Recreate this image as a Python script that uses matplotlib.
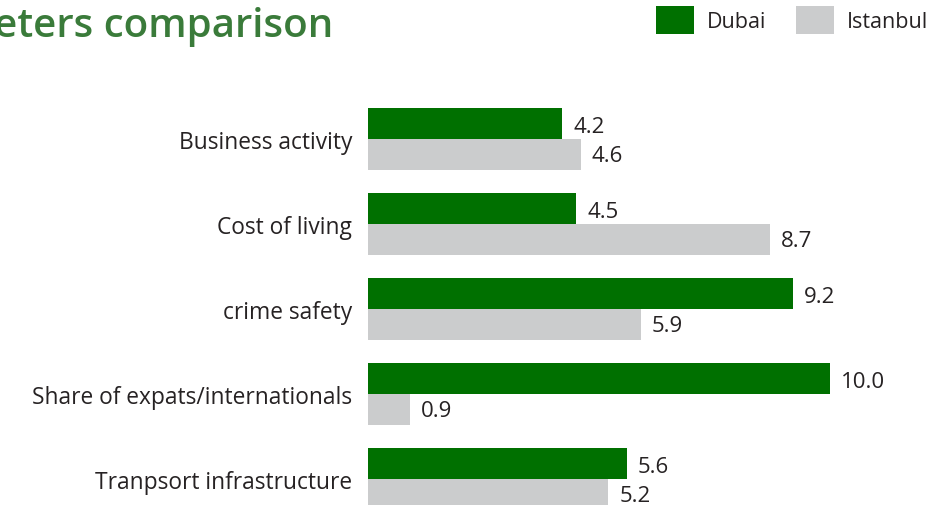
import matplotlib
matplotlib.use("Agg")
import matplotlib.pyplot as plt
from matplotlib.patches import Rectangle

categories = ["Business activity", "Cost of living", "crime safety",
              "Share of expats/internationals", "Tranpsort infrastructure"]
dubai = [4.2, 4.5, 9.2, 10.0, 5.6]
istanbul = [4.6, 8.7, 5.9, 0.9, 5.2]
series_names = ["Dubai", "Istanbul"]
title = "Parameters comparison"

GREEN = "#007000"
GRAY = "#cbcccd"
TEXT = "#262223"
TITLE_C = "#3a7b3a"
FONT = ["Open Sans", "DejaVu Sans"]

W, H = 949, 506
fig = plt.figure(figsize=(W / 100, H / 100), dpi=100)
left_px = 368
ax = fig.add_axes([left_px / W, 0, 1 - left_px / W, 1])

px_per_unit = 46.2
ax.set_xlim(0, (W - left_px) / px_per_unit)
row_px = 85
c0 = 140
ax.set_ylim((H - c0) / row_px, -c0 / row_px)

bh = 31 / row_px
ys = list(range(len(categories)))
ax.barh([y - bh / 2 for y in ys], dubai, height=bh, color=GREEN, linewidth=0)
ax.barh([y + bh / 2 for y in ys], istanbul, height=bh, color=GRAY, linewidth=0)

for y, d, s in zip(ys, dubai, istanbul):
    ax.annotate(f"{d:.1f}", (d, y - bh / 2), xytext=(8, -2), textcoords="offset points",
                ha="left", va="center", fontsize=16, color=TEXT, family=FONT)
    ax.annotate(f"{s:.1f}", (s, y + bh / 2), xytext=(8, -0.5), textcoords="offset points",
                ha="left", va="center", fontsize=16, color=TEXT, family=FONT)

ax.set_yticks(ys)
ax.set_yticklabels(categories, family=FONT, fontsize=16.4, color=TEXT)
ax.tick_params(axis="y", length=0, pad=11.5)
ax.set_xticks([])
for sp in ax.spines.values():
    sp.set_visible(False)

# title (partly cropped on the left as in the reference)
fig.text(333 / W, 1 - 37 / H, title, ha="right", va="baseline",
         fontsize=29, fontweight="semibold", color=TITLE_C, family=["Open Sans", "DejaVu Sans"])

# legend
for x0, col, name, tx in [(656, GREEN, series_names[0], 707), (796, GRAY, series_names[1], 847)]:
    fig.add_artist(Rectangle((x0 / W, 1 - 35 / H), 38 / W, 28 / H,
                             transform=fig.transFigure, color=col, linewidth=0))
    fig.text(tx / W, 1 - 23 / H, name, ha="left", va="center", fontsize=15.5,
             color=TEXT, family=FONT)

fig.savefig("out.png", dpi=100)
